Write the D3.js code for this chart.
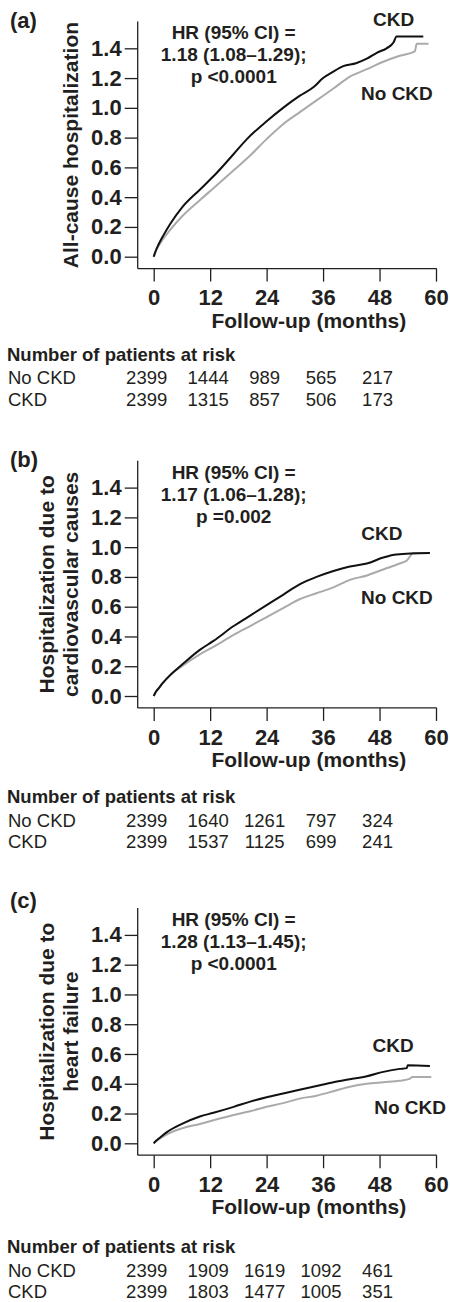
<!DOCTYPE html>
<html>
<head>
<meta charset="utf-8">
<script src="https://cdn.jsdelivr.net/npm/d3@7"></script>
<style>
  body { margin: 0; background: #fff; }
  svg text { font-family: "Liberation Sans", Arial, Helvetica, sans-serif; fill: #231f20; }
</style>
</head>
<body>
<div class="content"></div>
<script>
///////////////////////////////////////////////////////////////////
//DATA/////////////////////////////////////////////////////////////
var xTicks = [0, 12, 24, 36, 48, 60];
var yTicks = [0, 0.2, 0.4, 0.6, 0.8, 1.0, 1.2, 1.4];
var riskMonths = [0, 12, 24, 36, 48];
var groupNames = ["No CKD", "CKD"];

// (a) all-cause hospitalization, [month, cumulative events]
var allCauseCkd = [[0,0],[0.5,0.045],[1,0.08],[2,0.14],[3.5,0.22],[6,0.33],[9.8,0.45],[12.7,0.54],[17,0.69],[19.8,0.79],[24,0.91],[27.5,1.0],[31,1.08],[34,1.14],[36,1.2],[38,1.24],[40.3,1.28],[43,1.3],[45.3,1.33],[47.4,1.37],[49.5,1.4],[51,1.44],[51.6,1.48],[57.3,1.48]];
var allCauseNoCkd = [[0,0],[0.5,0.04],[1,0.07],[2,0.12],[3.5,0.18],[6,0.27],[9.8,0.38],[12.7,0.46],[17,0.58],[20.5,0.68],[24,0.79],[27.5,0.89],[31,0.97],[34.6,1.05],[38.2,1.13],[41.7,1.21],[45.3,1.26],[48.8,1.31],[52.3,1.35],[55.5,1.38],[55.9,1.43],[58.4,1.43]];
var allCauseRiskNoCkd = [2399, 1444, 989, 565, 217];
var allCauseRiskCkd = [2399, 1315, 857, 506, 173];
var allCauseHR = ["HR (95% CI) =", "1.18 (1.08\u20131.29);", "p <0.0001"];

// (b) cardiovascular causes
var cvCkd = [[0,0],[0.5,0.03],[1,0.05],[2,0.09],[3.5,0.14],[6,0.21],[9.8,0.31],[12.7,0.37],[17,0.47],[20.5,0.54],[24,0.61],[27.5,0.68],[31,0.75],[34.6,0.8],[38.2,0.84],[41.7,0.87],[45.3,0.89],[48.8,0.93],[51.6,0.95],[58.7,0.96]];
var cvNoCkd = [[0,0],[0.5,0.03],[1,0.05],[2,0.09],[3.5,0.14],[6,0.2],[9.8,0.28],[12.7,0.33],[17,0.41],[20.5,0.47],[24,0.53],[27.5,0.59],[31,0.65],[34.6,0.69],[38.2,0.73],[41.7,0.78],[45.3,0.81],[48.8,0.85],[52.3,0.89],[53.8,0.91],[55.2,0.96],[58.7,0.96]];
var cvRiskNoCkd = [2399, 1640, 1261, 797, 324];
var cvRiskCkd = [2399, 1537, 1125, 699, 241];
var cvHR = ["HR (95% CI) =", "1.17 (1.06\u20131.28);", "p =0.002"];

// (c) heart failure
var hfCkd = [[0,0],[0.5,0.017],[1,0.03],[2.8,0.075],[6,0.13],[9.8,0.18],[12.7,0.205],[17,0.245],[20.5,0.28],[24,0.31],[27.5,0.335],[31,0.36],[34.6,0.385],[38.2,0.41],[41.7,0.43],[45.3,0.45],[48.8,0.48],[52.3,0.5],[53.8,0.505],[54,0.525],[58.7,0.52]];
var hfNoCkd = [[0,0],[0.5,0.014],[1,0.025],[2.8,0.06],[6,0.1],[9.8,0.13],[12.7,0.155],[17,0.19],[20.5,0.215],[24,0.245],[27.5,0.27],[31,0.3],[34.6,0.32],[38.2,0.35],[41.7,0.38],[45.3,0.4],[48.8,0.41],[52.3,0.42],[54.5,0.435],[55,0.445],[59,0.445]];
var hfRiskNoCkd = [2399, 1909, 1619, 1092, 461];
var hfRiskCkd = [2399, 1803, 1477, 1005, 351];
var hfHR = ["HR (95% CI) =", "1.28 (1.13\u20131.45);", "p <0.0001"];

///////////////////////////////////////////////////////////////////
//LAYOUT///////////////////////////////////////////////////////////
var width = 450, height = 1302;
var ink = "#231f20", grey = "#aaaaaa";

var panels = [
  { tag: "(a)", tagY: 28.3, zeroY: 256.7, title: ["All-cause hospitalization"],
    ckd: allCauseCkd, noCkd: allCauseNoCkd, hr: allCauseHR,
    ckdLabel: [51, 1.55], noCkdLabel: [51.7, 1.05],
    risk: [allCauseRiskNoCkd, allCauseRiskCkd], tableY: 360.7 },
  { tag: "(b)", tagY: 466.7, zeroY: 696, title: ["Hospitalization due to", "cardiovascular causes"],
    ckd: cvCkd, noCkd: cvNoCkd, hr: cvHR,
    ckdLabel: [48.5, 1.05], noCkdLabel: [51.7, 0.62],
    risk: [cvRiskNoCkd, cvRiskCkd], tableY: 803.3 },
  { tag: "(c)", tagY: 908.3, zeroY: 1143.3, title: ["Hospitalization due to", "heart failure"],
    ckd: hfCkd, noCkd: hfNoCkd, hr: hfHR,
    ckdLabel: [50.9, 0.615], noCkdLabel: [54.5, 0.2],
    risk: [hfRiskNoCkd, hfRiskCkd], tableY: 1253.3 }
];

var x = d3.scaleLinear().domain([0, 60]).range([153.7, 436]);
var unitPx = 148.85;   // pixels per 1.0 on the y axis

var svg = d3.select(".content").append("svg")
  .attr("width", width).attr("height", height);

///////////////////////////////////////////////////////////////////
//DRAW PANELS//////////////////////////////////////////////////////
panels.forEach(function(p){
  var y = d3.scaleLinear().domain([0, 1.4]).range([p.zeroY, p.zeroY - 1.4 * unitPx]);
  var g = svg.append("g");
  var axisTop = y(1.58), axisBottom = y(-0.08);
  var axisLeftX = 137.7;

  // panel tag
  g.append("text").attr("x", 10).attr("y", p.tagY)
    .style("font-size", "22px").style("font-weight", "bold").text(p.tag);

  // y axis
  var yAxis = g.append("g").attr("transform", "translate(" + axisLeftX + ",0)")
    .call(d3.axisLeft(y).tickValues(yTicks).tickFormat(d3.format(".1f")).tickSize(13).tickPadding(3));
  yAxis.select(".domain").remove();
  yAxis.selectAll("line").attr("stroke", ink).attr("stroke-width", 1.3);
  yAxis.selectAll("text").style("font-size", "22px").style("font-weight", "bold")
    .attr("fill", ink).style("font-family", null);
  g.append("line").attr("x1", axisLeftX).attr("x2", axisLeftX)
    .attr("y1", axisTop).attr("y2", axisBottom).attr("stroke", ink).attr("stroke-width", 1.3);

  // x axis
  var xAxis = g.append("g").attr("transform", "translate(0," + axisBottom + ")")
    .call(d3.axisBottom(x).tickValues(xTicks).tickSize(13).tickPadding(8));
  xAxis.select(".domain").remove();
  xAxis.selectAll("line").attr("stroke", ink).attr("stroke-width", 1.3);
  xAxis.selectAll("text").style("font-size", "22px").style("font-weight", "bold")
    .attr("fill", ink).style("font-family", null);
  g.append("line").attr("x1", axisLeftX).attr("x2", x(60) + 0.7)
    .attr("y1", axisBottom).attr("y2", axisBottom).attr("stroke", ink).attr("stroke-width", 1.3);

  g.append("text").attr("x", x(30) + 14).attr("y", axisBottom + 59)
    .attr("text-anchor", "middle").style("font-size", "21px").style("font-weight", "bold")
    .text("Follow-up (months)");

  // y title
  var midY = (axisTop + axisBottom) / 2;
  var baseX = p.title.length === 1 ? [78] : [53.5, 78];
  p.title.forEach(function(t, i){
    g.append("text").attr("transform", "translate(" + baseX[i] + "," + midY + ") rotate(-90)")
      .attr("text-anchor", "middle").style("font-size", "21px").style("font-weight", "bold").text(t);
  });

  // curves
  var line = d3.line().x(function(d){ return x(d[0]); }).y(function(d){ return y(d[1]); })
    .curve(d3.curveMonotoneX);
  g.append("path").datum(p.noCkd).attr("d", line)
    .attr("fill", "none").attr("stroke", grey).attr("stroke-width", 2);
  g.append("path").datum(p.ckd).attr("d", line)
    .attr("fill", "none").attr("stroke", "#111").attr("stroke-width", 2);

  // HR annotation
  p.hr.forEach(function(t, i){
    g.append("text").attr("x", x(17)).attr("y", y(1.4) - 9 + i * 22)
      .attr("text-anchor", "middle").style("font-size", "19px").style("font-weight", "bold").text(t);
  });

  // series labels
  g.append("text").attr("x", x(p.ckdLabel[0])).attr("y", y(p.ckdLabel[1]))
    .attr("text-anchor", "middle").style("font-size", "19px").style("font-weight", "bold").text("CKD");
  g.append("text").attr("x", x(p.noCkdLabel[0])).attr("y", y(p.noCkdLabel[1]))
    .attr("text-anchor", "middle").style("font-size", "19px").style("font-weight", "bold").text("No CKD");

  // number at risk table
  g.append("text").attr("x", 7).attr("y", p.tableY)
    .style("font-size", "18.5px").style("font-weight", "bold").text("Number of patients at risk");
  p.risk.forEach(function(row, r){
    var rowY = p.tableY + 23.5 + r * 21.5;
    g.append("text").attr("x", 8).attr("y", rowY).style("font-size", "18.5px").text(groupNames[r]);
    g.selectAll(".risk" + r).data(row).enter().append("text")
      .attr("x", function(d, i){ return x(riskMonths[i]) - (i === 0 ? 7 : 2); })
      .attr("y", rowY).attr("text-anchor", "middle").style("font-size", "18.5px")
      .text(function(d){ return d; });
  });
});
</script>
</body>
</html>
